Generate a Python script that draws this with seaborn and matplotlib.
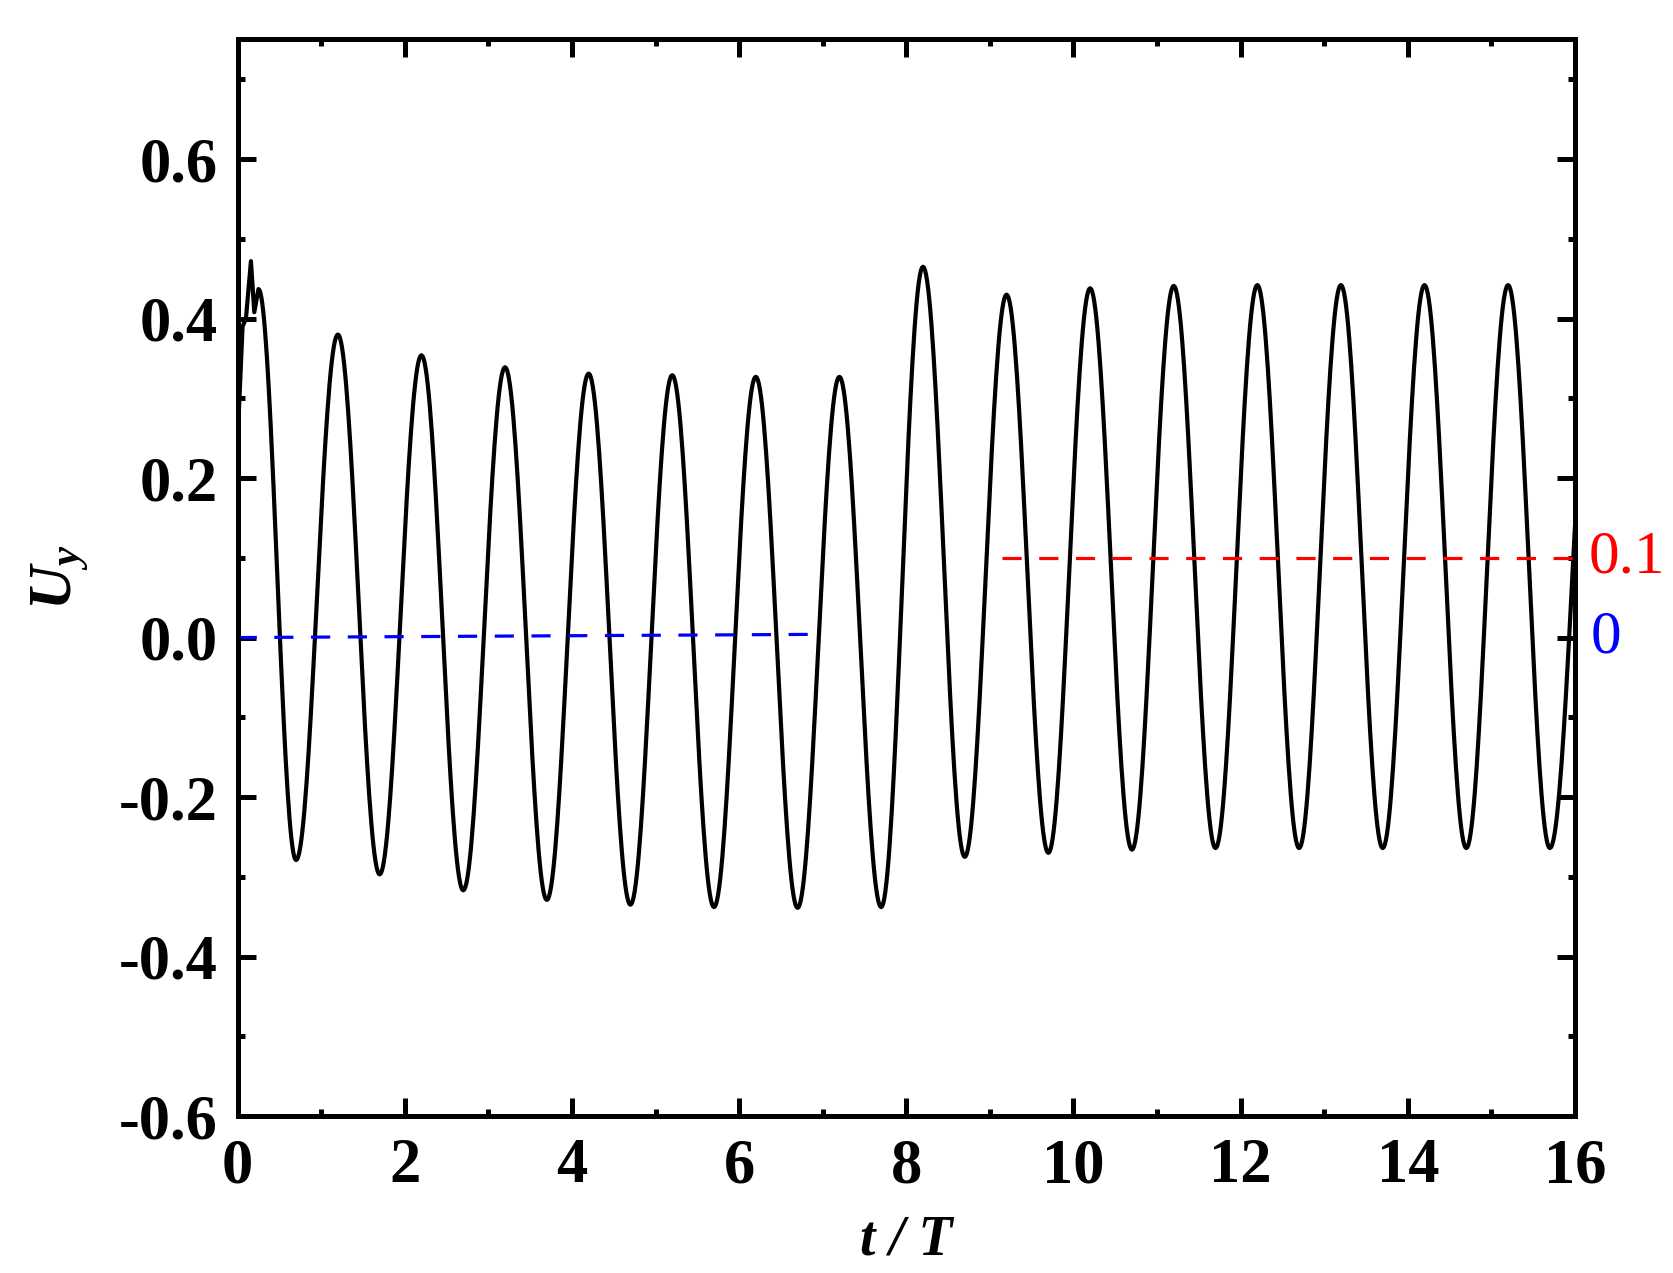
import numpy as np
import pandas as pd
import matplotlib
matplotlib.use("Agg")
import matplotlib.pyplot as plt
import seaborn as sns
from matplotlib.ticker import MultipleLocator

# ---------------- data ----------------
# initial transient (t/T, Uy)
start_t = [0.01, 0.06, 0.10, 0.16, 0.20, 0.25]
start_v = [0.27, 0.39, 0.40, 0.472, 0.408, 0.437]

# troughs and peaks of the oscillation
trough_t = [0.70, 1.70, 2.70, 3.70, 4.70, 5.70, 6.70, 7.70,
            8.70, 9.70, 10.70, 11.70, 12.70, 13.70, 14.70, 15.70]
trough_v = [-0.279, -0.297, -0.317, -0.329, -0.335, -0.338, -0.339, -0.338,
            -0.275, -0.270, -0.266, -0.264, -0.264, -0.264, -0.264, -0.264]
peak_t = [1.20, 2.20, 3.20, 4.20, 5.20, 6.20, 7.20, 8.20,
          9.20, 10.20, 11.20, 12.20, 13.20, 14.20, 15.20, 16.25]
peak_v = [0.380, 0.354, 0.339, 0.331, 0.329, 0.327, 0.327, 0.465,
          0.430, 0.438, 0.441, 0.442, 0.442, 0.442, 0.442, 0.442]

# reference dashed lines
blue_t = [0.0, 6.9]
blue_v = [0.0, 0.004]
red_t = [9.15, 16.0]
red_v = [0.1, 0.1]

x_ticks = [0, 2, 4, 6, 8, 10, 12, 14, 16]
y_ticks = [-0.6, -0.4, -0.2, 0.0, 0.2, 0.4, 0.6]

# ---------------- build smooth curve through extrema ----------------
ext_t = [start_t[-1]]
ext_v = [start_v[-1]]
for a, b, c, d in zip(trough_t, trough_v, peak_t, peak_v):
    ext_t += [a, c]
    ext_v += [b, d]

ts = list(start_t[:-1])
vs = list(start_v[:-1])
s = np.linspace(0, 1, 41)
for i in range(len(ext_t) - 1):
    t0, t1 = ext_t[i], ext_t[i + 1]
    v0, v1 = ext_v[i], ext_v[i + 1]
    seg_s = s if i == 0 else s[1:]
    ts += list(t0 + (t1 - t0) * seg_s)
    vs += list(v0 + (v1 - v0) * (1 - np.cos(np.pi * seg_s)) / 2)
curve = pd.DataFrame({"t": ts, "Uy": vs})

# ---------------- style ----------------
sns.set_style("ticks")
plt.rcParams["font.family"] = ["Liberation Serif", "DejaVu Serif"]
plt.rcParams["axes.unicode_minus"] = False
plt.rcParams["text.color"] = "black"
plt.rcParams["axes.labelcolor"] = "black"
plt.rcParams["xtick.color"] = "black"
plt.rcParams["ytick.color"] = "black"
plt.rcParams["axes.edgecolor"] = "black"
plt.rcParams["mathtext.fontset"] = "custom"
plt.rcParams["mathtext.it"] = "Liberation Serif:italic:bold"
plt.rcParams["mathtext.rm"] = "Liberation Serif:bold"
plt.rcParams["mathtext.bf"] = "Liberation Serif:bold"

fig = plt.figure(figsize=(16.73, 12.73), dpi=100)
ax = fig.add_axes([0.142, 0.1233, 0.7994, 0.8457])

sns.lineplot(data=curve, x="t", y="Uy", ax=ax, color="black", lw=3.0,
             sort=False, estimator=None)
sns.lineplot(x=blue_t, y=blue_v, ax=ax, color="#0000ff", lw=2.3,
             linestyle=(0, (6, 5.5)))
sns.lineplot(x=red_t, y=red_v, ax=ax, color="#ff0000", lw=2.3,
             linestyle=(0, (6, 5.5)))

ax.set_xlim(0, 16)
ax.set_ylim(-0.6, 0.75)
ax.set_xticks(x_ticks)
ax.set_yticks(y_ticks)
ax.set_xticklabels([str(v) for v in x_ticks])
ax.set_yticklabels([f"{v:.1f}" for v in y_ticks])
ax.xaxis.set_minor_locator(MultipleLocator(1))
ax.yaxis.set_minor_locator(MultipleLocator(0.1))

for sp in ax.spines.values():
    sp.set_linewidth(3.6)
    sp.set_color("black")

ax.tick_params(which="both", direction="in", top=True, right=True,
               width=3.6, color="black", labelcolor="black")
ax.tick_params(which="major", length=13)
ax.tick_params(which="minor", length=5)
ax.tick_params(axis="x", which="major", pad=16)
ax.tick_params(axis="y", which="major", pad=14)
for lab in ax.get_xticklabels() + ax.get_yticklabels():
    lab.set_fontsize(45)
    lab.set_fontweight("bold")

ax.set_xlabel("t / T", fontsize=40, fontweight="bold", fontstyle="italic",
              labelpad=13, color="black")
ax.set_ylabel(r"$U_y$", fontsize=44, labelpad=20, color="black")

ax.text(1.01, 0.1, "0.1", transform=ax.get_yaxis_transform(),
        color="#ff0000", fontsize=44, va="center", ha="left")
ax.text(1.012, 0.0, "0", transform=ax.get_yaxis_transform(),
        color="#0000ff", fontsize=44, va="center", ha="left")

fig.savefig("out.png", dpi=100, facecolor="white")
